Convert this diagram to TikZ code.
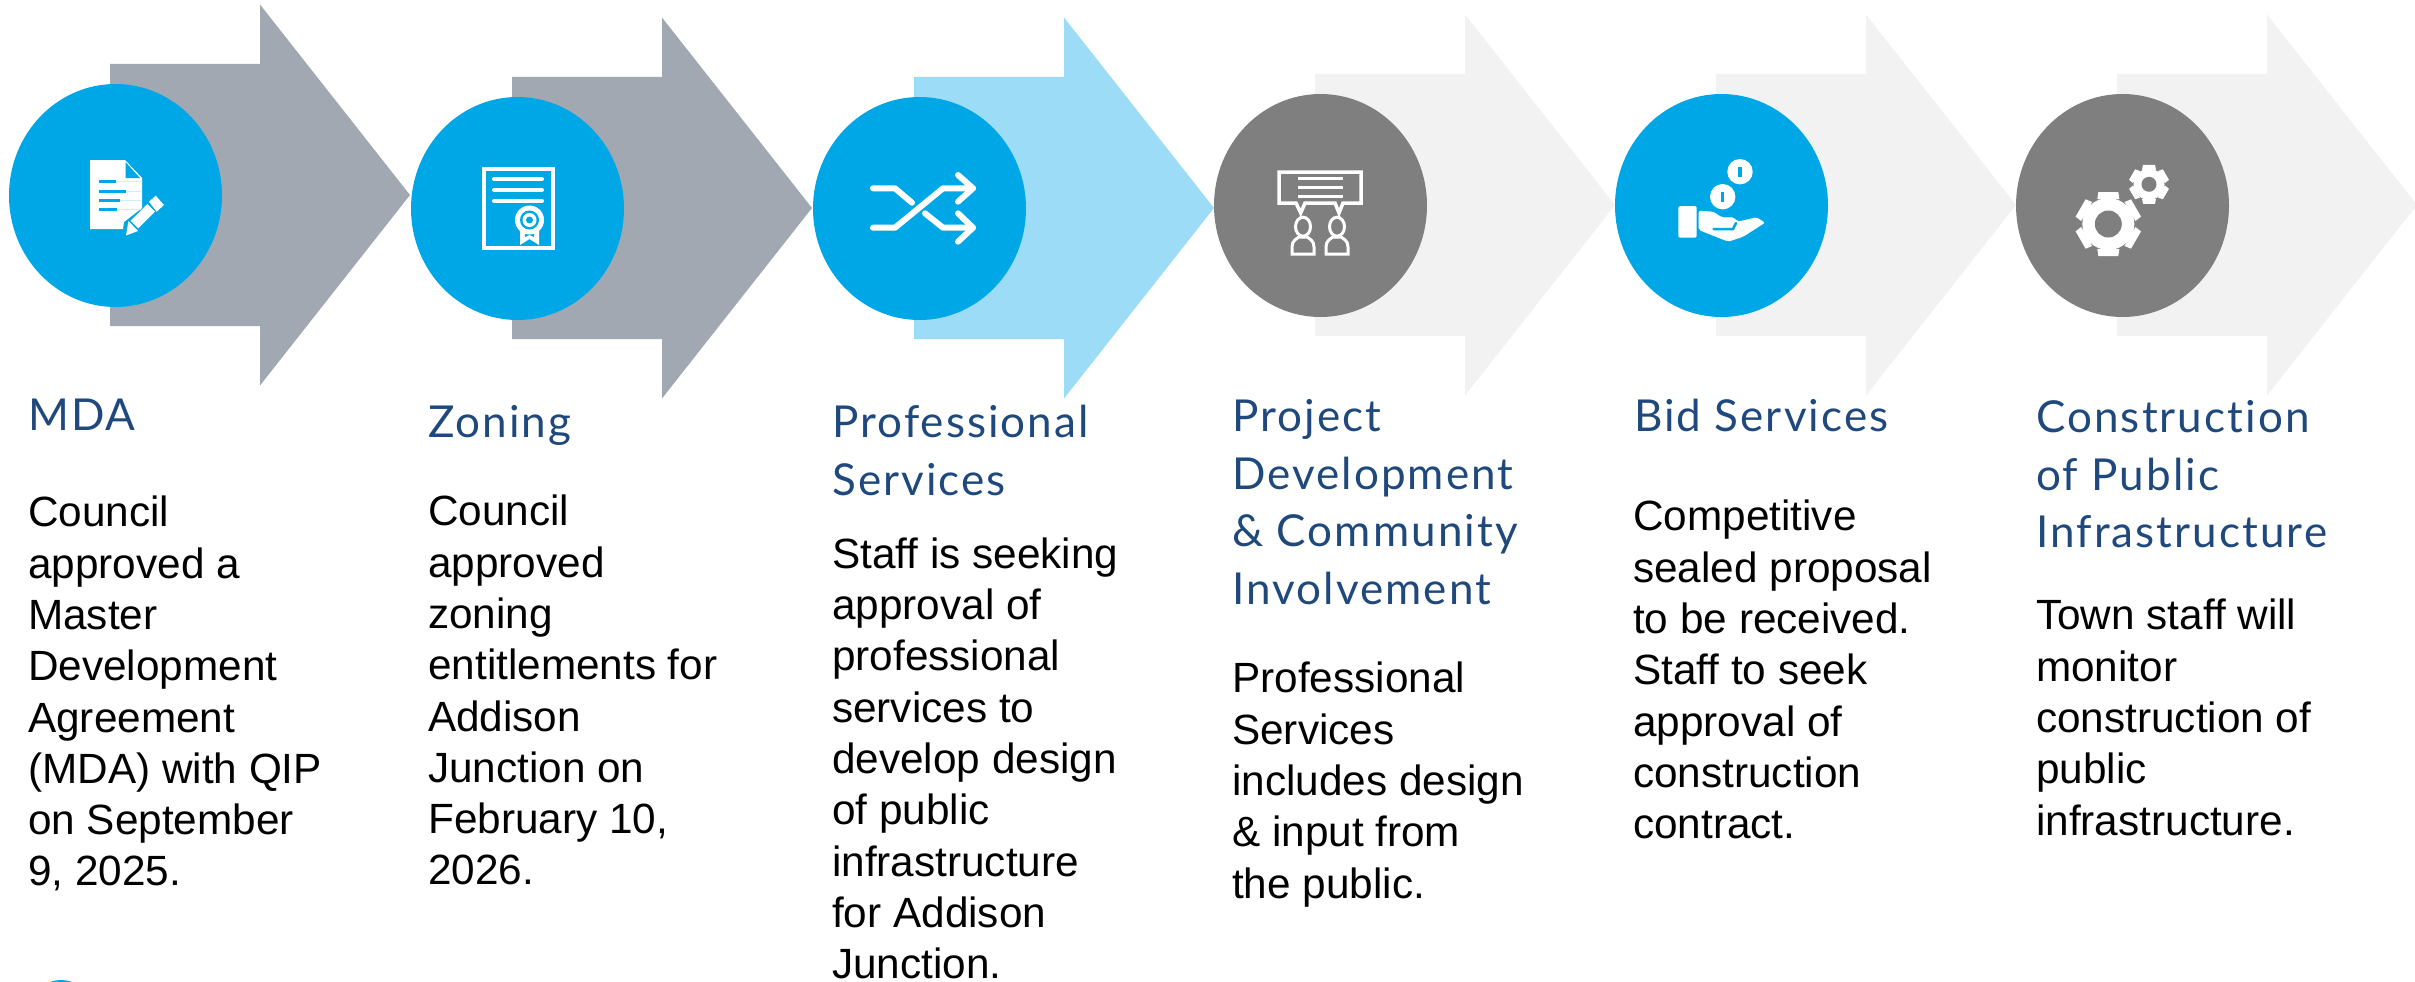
\documentclass[tikz,border=0pt]{standalone}
\usepackage{fontspec}
\setmainfont{Liberation Sans}
\newfontfamily\headfont[LetterSpace=4.7,Ligatures=NoCommon]{Lato}
\usepackage{tikz}
\usetikzlibrary{calc,positioning}

\definecolor{arrowgray}{HTML}{A1A8B2}
\definecolor{arrowblue}{HTML}{9CDCF6}
\definecolor{arrowpale}{HTML}{F2F2F2}
\definecolor{discblue}{HTML}{00A7E7}
\definecolor{discgray}{HTML}{7F7F7F}
\definecolor{headblue}{HTML}{1F497D}
\definecolor{paleline}{HTML}{CDEEFB}

\tikzset{
    headlabel/.style={anchor=north west, inner sep=0pt, align=left, text=headblue,
        font=\fontsize{44}{57.7}\selectfont\headfont},
    bodylabel/.style={anchor=north west, inner sep=0pt, align=left, text=black,
        font=\fontsize{42.3}{51.3}\selectfont},
    iconline/.style={white, line width=4pt, line cap=round, line join=round},
}

\begin{document}
\begin{tikzpicture}[x=1pt, y=-1pt]

    \useasboundingbox (0,0) rectangle (2415,982);

    \foreach \lft/\cy/\arrowc/\discc in {110/195/arrowgray/discblue, 512/208/arrowgray/discblue,
        914/208/arrowblue/discblue, 1315/205/arrowpale/discgray,
        1716/205/arrowpale/discblue, 2117/205/arrowpale/discgray}{
        \fill[\arrowc] (\lft,\cy-131) -- (\lft+150,\cy-131) -- (\lft+150,\cy-190.5)
            -- (\lft+300,\cy) -- (\lft+150,\cy+190.5) -- (\lft+150,\cy+131) -- (\lft,\cy+131) -- cycle;
        \fill[\discc] (\lft+5.5,\cy+0.5) ellipse [x radius=106.5, y radius=111.5];
    }

    % document and pencil
    \fill[white] (90,160) -- (125,160) -- (142,178) -- (142,208) -- (124,222) -- (123,229) -- (90,229) -- cycle;
    \fill[discblue] (125.5,162) -- (140,178) -- (125.5,178) -- cycle;
    \foreach \ly/\lx in {181/116, 191/126, 200/120, 209/117}{
        \draw[paleline, line width=1pt] (\lx,\ly) -- (141,\ly);
        \draw[discblue, line width=3pt] (99,\ly) -- (\lx,\ly);
    }
    \fill[white] (126,235.5) -- (128.5,221) -- (138,231) -- cycle;
    \fill[white] (130.7,220.7) -- (147.3,204) -- (155,211.7) -- (138.3,228.3) -- cycle;
    \fill[white] (149,201.7) -- (155.7,195.7) -- (164,205) -- (156.7,211.7) -- cycle;

    % certificate
    \draw[white, line width=4pt] (484,168.5) rectangle (553,248);
    \foreach \ly in {179,190,201}{
        \draw[iconline] (494,\ly) -- (542,\ly);
    }
    \fill[white] (520,230) -- (539,230) -- (539,245) -- (529.5,239) -- (520,245) -- cycle;
    \fill[discblue] (525,234) -- (534,234) -- (534,237) -- (529.5,235) -- (525,237) -- cycle;
    \fill[white] (529.5,220) circle [radius=14.5];
    \fill[discblue] (529.5,220) circle [radius=9.5];
    \fill[white] (529.5,220) circle [radius=7];
    \fill[discblue] (529.5,220) circle [radius=3.5];

    % crossing arrows
    \draw[iconline, line width=6pt] (873,188.3) -- (895,188.3) -- (912,202.7);
    \draw[iconline, line width=6pt] (873,227.7) -- (895,227.7) -- (943,188.3) -- (973,188.3);
    \draw[iconline, line width=6pt] (925,213.3) -- (943,227.7) -- (973,227.7);
    \draw[iconline, line width=6pt] (958,175) -- (973,188.3) -- (958,201.7);
    \draw[iconline, line width=6pt] (958,213.3) -- (973,227.7) -- (958,241.7);

    % speech bubble and people
    \draw[white, line width=3.5pt, fill=discgray] (1279,172) -- (1361,172) -- (1361,203) -- (1343,203) -- (1339,213)
        -- (1335,203) -- (1305,203) -- (1300.7,213) -- (1296,203) -- (1279,203) -- cycle;
    \foreach \ly in {178.5,187.5,196.5}{
        \draw[white, line width=3pt] (1298,\ly) -- (1343,\ly);
    }
    \foreach \px in {1303,1337}{
        \draw[white, line width=3pt] (\px,226.7) ellipse [x radius=7.5, y radius=9.5];
        \draw[white, line width=3pt] (\px-11,254) -- (\px-11,247) .. controls (\px-11,241) and (\px-7,239) .. (\px-4,237)
            -- (\px+4,237) .. controls (\px+7,239) and (\px+11,241) .. (\px+11,247) -- (\px+11,254) -- cycle;
    }

    % hand and coins
    \foreach \cx/\cy in {1740/171.7, 1722.7/196.7}{
        \fill[white] (\cx,\cy) circle [radius=12.7];
        \fill[discblue] (\cx-1.7,\cy-5) rectangle (\cx+1.7,\cy+5);
    }
    \fill[white, rounded corners=1.5pt] (1678.3,206) rectangle (1696.7,237.7);
    \fill[white, rounded corners=2pt] (1698.7,210.7) -- (1713.3,211.7) -- (1721.7,217.3) -- (1734,217.3) -- (1737.3,221.7)
        -- (1756.7,217.3) -- (1765,222.7) -- (1743.3,236.7) -- (1728.3,241.7) -- (1698.7,230) -- cycle;
    \draw[discblue, line width=2.5pt, line cap=round] (1713.5,229) -- (1733,229) -- (1736,223);

    % gears
    \foreach \gx/\gy/\gbody/\gtip/\gw/\ghole in {2108.3/224/26/32/10/13.5, 2149/184.3/15.5/19.5/6/7.5}{
        \foreach \a in {0,60,...,300}{
            \fill[white, shift={(\gx,\gy)}, rotate=\a] (-\gw-1,-\gbody+1) -- (-\gw,-\gtip) -- (\gw,-\gtip) -- (\gw+1,-\gbody+1) -- cycle;
        }
        \fill[white] (\gx,\gy) circle [radius=\gbody];
        \fill[discgray] (\gx,\gy) circle [radius=\ghole];
    }

    \fill[discblue] (50,982) .. controls (56,979.5) and (66,979.5) .. (72,982) -- cycle;

    \node[headlabel] (mdahead) at (28,399) {MDA};
    \node[headlabel] (zoninghead) at (428,405) {Zoning};
    \node[headlabel] (profhead) at (832,405) {Professional\\Services};
    \node[headlabel] (projecthead) at (1232,399) {Project\\Development\\\& Community\\Involvement};
    \node[headlabel] (bidhead) at (1634,399) {Bid Services};
    \node[headlabel] (constructionhead) at (2036,400) {Construction\\of Public\\Infrastructure};

    \node[bodylabel] (mdabody) at (28,496) {Council\\approved a\\Master\\Development\\Agreement\\(MDA) with QIP\\on September\\9, 2025.};
    \node[bodylabel] (zoningbody) at (428,495) {Council\\approved\\zoning\\entitlements for\\Addison\\Junction on\\February 10,\\2026.};
    \node[bodylabel] (profbody) at (832,537.5) {Staff is seeking\\approval of\\professional\\services to\\develop design\\of public\\infrastructure\\for Addison\\Junction.};
    \node[bodylabel] (projectbody) at (1232,662) {Professional\\Services\\includes design\\\& input from\\the public.};
    \node[bodylabel] (bidbody) at (1633,500) {Competitive\\sealed proposal\\to be received.\\Staff to seek\\approval of\\construction\\contract.};
    \node[bodylabel] (constructionbody) at (2036,599) {Town staff will\\monitor\\construction of\\public\\infrastructure.};

\end{tikzpicture}
\end{document}
